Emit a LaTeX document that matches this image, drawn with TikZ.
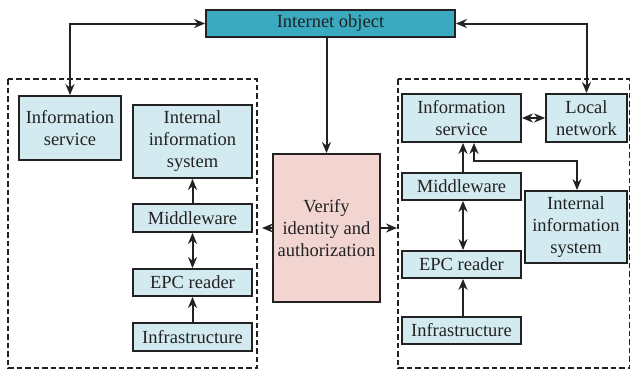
\documentclass[tikz,border=0pt]{standalone}
\usepackage{fontspec}
\setmainfont{Liberation Serif}
\usetikzlibrary{arrows.meta}
\definecolor{boxfill}{HTML}{D3EBF0}
\definecolor{topfill}{HTML}{3AAAC1}
\definecolor{pinkfill}{HTML}{F2D5D1}
\definecolor{ink}{HTML}{222222}
\tikzset{
  base/.style={draw=ink, line width=1.8pt, align=center, inner sep=1pt,
    text=ink, font=\fontsize{18.5}{22}\selectfont},
  box/.style={base, fill=boxfill},
  group/.style={draw=ink, line width=1.6pt, dash pattern=on 5.5pt off 3pt},
  conn/.style={draw=ink, line width=2pt, -{Stealth[length=11pt,width=9pt]}},
  conn2/.style={draw=ink, line width=2pt, {Stealth[length=11pt,width=9pt]}-{Stealth[length=11pt,width=9pt]}}
}
\begin{document}
\begin{tikzpicture}[x=1pt,y=-1pt]
\useasboundingbox (0,0) rectangle (631,372);
% dashed groups
\draw[group] (8,79) rectangle (257,368);
\draw[group] (398,79) rectangle (629.5,368);

% top object
\node[base, fill=topfill, minimum width=249pt, minimum height=27pt] (inet) at (330.5,23.5) {Internet object};
% verification block
\node[base, fill=pinkfill, minimum width=107pt, minimum height=148pt] (verify) at (326.5,228) {Verify\\identity and\\authorization};

% left group
\node[box, minimum width=102pt, minimum height=64pt] (isL) at (70,128) {Information\\service};
\node[box, minimum width=119pt, minimum height=73pt] (iisL) at (192.5,141.5) {Internal\\information\\system};
\node[box, minimum width=119pt, minimum height=28pt] (mwL) at (192.5,218) {Middleware};
\node[box, minimum width=119pt, minimum height=27pt] (epcL) at (192.5,282.5) {EPC reader};
\node[box, minimum width=119pt, minimum height=28pt] (infL) at (192.5,337) {Infrastructure};

% right group
\node[box, minimum width=119pt, minimum height=48pt] (isR) at (461.5,118) {Information\\service};
\node[box, minimum width=81pt, minimum height=48pt] (lnR) at (586.5,118) {Local\\network};
\node[box, minimum width=119pt, minimum height=27pt] (mwR) at (461.5,186.5) {Middleware};
\node[box, minimum width=102pt, minimum height=72pt] (iisR) at (576,227) {Internal\\information\\system};
\node[box, minimum width=119pt, minimum height=27pt] (epcR) at (461.5,264.5) {EPC reader};
\node[box, minimum width=119pt, minimum height=27pt] (infR) at (461.5,330.5) {Infrastructure};

% free ends on the group borders
\coordinate (gl) at (262,228);
\coordinate (gr) at (397,228);

% connectors
\draw[conn2] (inet.west) -| (isL.north);
\draw[conn2] (inet.east) -| (lnR.north);
\draw[conn] (inet.south -| verify.north) -- (verify.north);
\draw[conn] (verify.west |- gl) -- (gl);
\draw[conn] (verify.east |- gr) -- (gr);

\draw[conn] (mwL.north) -- (iisL.south);
\draw[conn2] (mwL.south) -- (epcL.north);
\draw[conn] (infL.north) -- (epcL.south);

\draw[conn2] (isR.east) -- (lnR.west);
\draw[conn] (mwR.north -| 463,0) -- (isR.south -| 463,0);
\draw[conn2] (isR.south -| 474,0) -- (474,161) -| (iisR.north -| 577,0);
\draw[conn2] (mwR.south -| 463,0) -- (epcR.north -| 463,0);
\draw[conn] (infR.north -| 463,0) -- (epcR.south -| 463,0);
\end{tikzpicture}
\end{document}
